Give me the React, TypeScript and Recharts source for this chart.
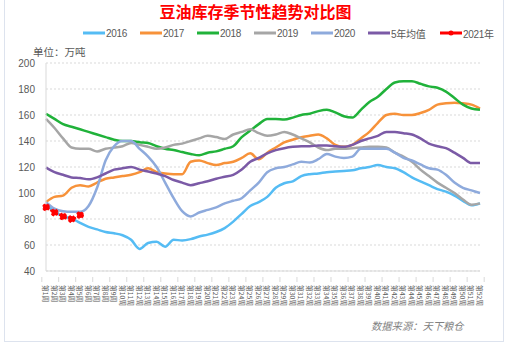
import React from 'react'
import { LineChart, Line, XAxis, YAxis, CartesianGrid, Legend } from 'recharts'

const FONT = "'Liberation Sans', 'Noto Sans CJK SC', sans-serif"
const CJK = "'Noto Sans CJK SC', sans-serif"

const weeks = Array.from({ length: 52 }, (_, i) => `第${i + 1}周`)

const y2016 = [91, 86, 82, 80.5, 77, 74, 72, 70, 69, 67.5, 64, 57, 61.5, 62.5, 58.7, 64, 63.5, 64.5, 66.5, 68, 70, 73, 78, 84, 90, 93, 97, 104, 107.5, 109, 113, 114.5, 115, 116, 116.5, 117, 117.5, 119, 120, 121.5, 120, 119, 116, 112, 109, 106, 103, 101, 98, 94, 90.5, 92]
const y2017 = [93, 97, 98, 104, 106, 105, 108, 111, 112, 113, 114, 116, 119, 116, 115, 114.5, 114.5, 124, 125, 123, 121.5, 123, 124, 127, 130.5, 126, 131, 135, 139, 141, 143, 144, 145, 142, 137, 135.5, 137, 142, 147, 154, 160, 161, 160, 160, 161.5, 164, 168, 169, 169.5, 169, 168, 165]
const y2018 = [161, 157, 153, 151, 149, 147, 145, 143, 141, 140, 140, 139, 138.5, 136, 134, 133, 131.5, 130, 129, 131, 132, 134, 136, 143, 148, 153, 157, 157, 156.5, 158, 160, 161, 163, 164, 162, 159, 158, 164, 170, 174, 180, 185, 186, 186, 184, 182, 181, 178, 173, 168, 165, 164]
const y2019 = [157, 150, 142, 135, 134, 134, 132, 134, 135, 136, 138.5, 137, 135.5, 134, 135, 137, 138, 140, 142, 144, 143, 141.5, 145, 147, 149, 146, 144, 145, 147, 145, 142, 139, 135, 133, 134, 134, 134.5, 135, 135.5, 135.5, 135, 131, 128, 124, 118, 113, 108, 104, 100, 95, 91, 92]
const y2020 = [93, 88, 86, 85.5, 85.5, 90, 104, 125, 136, 140, 140, 134, 128, 120, 108, 96, 86, 82, 85, 87, 89, 92, 94, 96, 102, 108, 116, 119, 120, 122, 124, 123.5, 126, 130, 128, 127, 128, 134, 134, 134, 134, 131, 127, 125, 122, 119, 118, 114, 108, 104, 102, 100]
const yAvg = [119.5, 116, 114, 112, 111.5, 110.5, 112, 115, 118, 119, 120, 118, 116.5, 115, 113, 110, 108, 106, 107.5, 109, 111, 112.5, 114, 118, 124, 127, 130.5, 133, 134.5, 135.5, 136, 136, 136.5, 136.5, 136, 135.5, 137, 140, 142, 144, 147, 147, 146, 145, 142, 138, 136, 134.5, 131, 127, 123, 123]
const y2021 = [89, 85, 82, 80, 83]

const yTicks = [40, 60, 80, 100, 120, 140, 160, 180, 200]

const series = [
  { key: 's2016', name: '2016', color: '#55bcf4', data: y2016 },
  { key: 's2017', name: '2017', color: '#f7923a', data: y2017 },
  { key: 's2018', name: '2018', color: '#20b23a', data: y2018 },
  { key: 's2019', name: '2019', color: '#a6a6a6', data: y2019 },
  { key: 's2020', name: '2020', color: '#8eaadc', data: y2020 },
  { key: 'avg', name: '5年均值', color: '#7b5aa6', data: yAvg },
  { key: 's2021', name: '2021年', color: '#ff0000', data: y2021 },
]

const rows = weeks.map((w, i) => {
  const row: Record<string, string | number | undefined> = { week: w }
  series.forEach(s => { row[s.key] = s.data[i] })
  return row
})

const LEGEND_X = [83, 140, 197, 254, 311, 368, 440]

function TopLegend() {
  return (
    <div style={{ position: 'relative', width: 511, height: 14 }}>
      {series.map((s, i) => (
        <div key={s.key} style={{ position: 'absolute', left: LEGEND_X[i], top: 0, display: 'flex', alignItems: 'center', height: 14 }}>
          <svg width={23} height={8}>
            <line x1={0} y1={4} x2={22} y2={4} stroke={s.color} strokeWidth={3} />
            {s.key === 's2021' && <circle cx={11} cy={4} r={2.5} fill={s.color} />}
          </svg>
          <span style={{ fontFamily: FONT, fontSize: 10, color: '#595959', letterSpacing: -0.3 }}>{s.name}</span>
        </div>
      ))}
    </div>
  )
}

const BW = 434 / 52

function WeekTick({ x, y, payload, index }: any) {
  return (
    <g>
      {(index + 1) % 2 === 0 && (
        <line x1={x + BW / 2} y1={y - 2} x2={x + BW / 2} y2={y + 3} stroke="#d9d9d9" />
      )}
      {index === 0 && <line x1={x - BW / 2} y1={y - 2} x2={x - BW / 2} y2={y + 3} stroke="#d9d9d9" />}
      <text
        x={x}
        y={y + 6}
        transform={`rotate(90, ${x}, ${y + 6})`}
        textAnchor="start"
        dominantBaseline="central"
        fontSize={6.8}
        fontFamily={CJK}
        fill="#595959"
      >
        {payload.value}
      </text>
    </g>
  )
}

export default function App() {
  return (
    <div style={{ position: 'absolute', left: 0, top: 0, width: 511, height: 353, background: '#fff', overflow: 'hidden' }}>
      <div style={{ position: 'absolute', left: 4, top: -1, width: 500, height: 343, border: '1px solid #dde3ee', boxSizing: 'border-box' }} />
      <div style={{ position: 'absolute', left: 0, top: 1, width: 511, textAlign: 'center', fontFamily: CJK, fontWeight: 700, fontSize: 16, color: '#ff0000', lineHeight: '20px' }}>
        豆油库存季节性趋势对比图
      </div>
      <div style={{ position: 'absolute', left: 33, top: 45, fontFamily: CJK, fontSize: 10.5, color: '#595959', lineHeight: '14px' }}>
        单位：万吨
      </div>
      <div style={{ position: 'absolute', left: 371, top: 318, fontFamily: CJK, fontSize: 10.3, fontStyle: 'italic', color: '#7f7f7f', lineHeight: '16px' }}>
        数据来源：天下粮仓
      </div>
      <LineChart width={511} height={353} data={rows} margin={{ top: 63, right: 31, bottom: 0, left: 0 }} style={{ position: 'absolute', left: 0, top: 0 }}>
        <CartesianGrid horizontal vertical={false} stroke="#d9d9d9" strokeDasharray="2 2" />
        <XAxis
          dataKey="week"
          interval={0}
          tick={<WeekTick />}
          tickLine={false}
          axisLine={{ stroke: '#d9d9d9' }}
          height={82}
        />
        <YAxis
          domain={[40, 200]}
          ticks={yTicks}
          width={46}
          tickLine={false}
          tickMargin={5}
          axisLine={{ stroke: '#d9d9d9' }}
          tick={{ fill: '#595959', fontSize: 10, fontFamily: FONT }}
        />
        <Legend verticalAlign="middle" layout="horizontal" content={<TopLegend />} wrapperStyle={{ top: 26, left: 0, width: 511 }} />
        {series.map(s => (
          <Line
            key={s.key}
            type="monotone"
            dataKey={s.key}
            name={s.name}
            stroke={s.color}
            strokeWidth={s.key === 's2021' ? 2 : 2.5}
            strokeDasharray={s.key === 's2021' ? '3 2' : undefined}
            dot={s.key === 's2021' ? { r: 3, fill: s.color, stroke: s.color } : false}
            activeDot={false}
            connectNulls={false}
            isAnimationActive={false}
          />
        ))}
      </LineChart>
    </div>
  )
}
